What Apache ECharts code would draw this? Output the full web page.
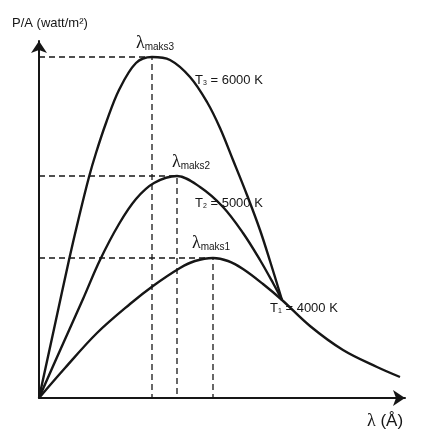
<!DOCTYPE html>
<html>
<head>
<meta charset="utf-8">
<script src="https://cdn.jsdelivr.net/npm/echarts@6/dist/echarts.min.js"></script>
<style>
  html, body { margin: 0; padding: 0; background: #fff; }
  #chart { width: 428px; height: 446px; }
</style>
</head>
<body>
<div id="chart"></div>
<script>
// curves, [lambda, P/A] in arbitrary units
const curveT3 = [[0,0],[15,69],[30,138],[40,181],[50,221],[57,245],[67,275],[80,308],[97,335],[113,341],
  [131,338],[151,321],[168,296],[181,270],[194,238],[208,203],[221,168],[231,137],[243,98]];
const curveT2 = [[0,0],[23,52],[44,99],[61,138],[80,174],[97,199],[115,215],[138,222],
  [161,211],[184,191],[204,165],[221,138],[234,115],[243,98]];
const curveT1 = [[0,0],[26,30],[58,65],[91,94],[114,112],[141,130],[156,137],[174,140],[189,137],[204,129],
  [224,114],[243,98],[271,72],[304,48],[338,31],[361,21]];

const peaks = [[113,341],[138,222],[174,140]];          // lambda maks 3, 2, 1
const peakNames = ['maks3','maks2','maks1'];
const tempIdx = ['3','2','1'];
const temps = ['6000 K','5000 K','4000 K'];
const tempLabelAt = [[156,319],[156,196],[231,91]];

const ink = '#161616';
const myChart = echarts.init(document.getElementById('chart'));

const lamRich = {
  l: { fontFamily: 'Liberation Serif', fontSize: 18, lineHeight: 18, verticalAlign: 'bottom', color: ink },
  s: { fontFamily: 'Liberation Sans', fontSize: 10, lineHeight: 9, verticalAlign: 'bottom', color: ink },
  t: { fontFamily: 'Liberation Sans', fontSize: 13, lineHeight: 15, verticalAlign: 'bottom', color: ink },
  u: { fontFamily: 'Liberation Sans', fontSize: 7, lineHeight: 7, verticalAlign: 'bottom', color: ink }
};
const lamOffsets = [[3,0],[14,0],[-2,-1]];

let curves = [curveT3, curveT2, curveT1];
let series = [];
for (let i = 0; i < 3; i++) {
  series.push({
    type: 'line',
    data: [[0, peaks[i][1]], peaks[i], [peaks[i][0], 0]],
    symbol: 'none',
    silent: true,
    lineStyle: { color: ink, width: 1.3, type: [6, 4] }
  });
}
for (let i = 0; i < 3; i++) {
  series.push({
    type: 'line',
    data: curves[i],
    symbol: 'none',
    smooth: 0.35,
    silent: true,
    lineStyle: { color: ink, width: 2.4 },
    markPoint: {
      symbol: 'circle',
      symbolSize: 0,
      silent: true,
      label: { show: true, rich: lamRich },
      data: [
        {
          coord: peaks[i],
          label: { position: 'top', distance: 5, offset: lamOffsets[i], formatter: '{l|λ}{s|' + peakNames[i] + '}' }
        },
        {
          coord: tempLabelAt[i],
          label: { position: 'right', distance: 0, formatter: '{t|T}{u|' + tempIdx[i] + '}{t| = ' + temps[i] + '}' }
        }
      ]
    }
  });
}

let option = {
  backgroundColor: '#fff',
  animation: false,
  grid: { left: 39, right: 23, top: 41, bottom: 48 },
  xAxis: {
    type: 'value', min: 0, max: 366,
    axisLine: { lineStyle: { color: ink, width: 2 }, symbol: ['none', 'arrow'], symbolSize: [12, 12] },
    axisTick: { show: false }, axisLabel: { show: false }, splitLine: { show: false }
  },
  yAxis: {
    type: 'value', min: 0, max: 357,
    axisLine: { lineStyle: { color: ink, width: 2 }, symbol: ['none', 'arrow'], symbolSize: [12, 12] },
    axisTick: { show: false }, axisLabel: { show: false }, splitLine: { show: false }
  },
  graphic: [
    {
      type: 'text', left: 12, top: 17,
      style: { text: 'P/A (watt/m²)', font: '13px "Liberation Sans"', fill: ink }
    },
    {
      type: 'text', left: 367, top: 412,
      style: {
        text: '{l|λ}{a| (Å)}',
        rich: {
          l: { fontFamily: 'Liberation Serif', fontSize: 18, fill: ink, color: ink },
          a: { fontFamily: 'Liberation Sans', fontSize: 17, fill: ink, color: ink }
        }
      }
    }
  ],
  series: series
};
myChart.setOption(option);
</script>
</body>
</html>
